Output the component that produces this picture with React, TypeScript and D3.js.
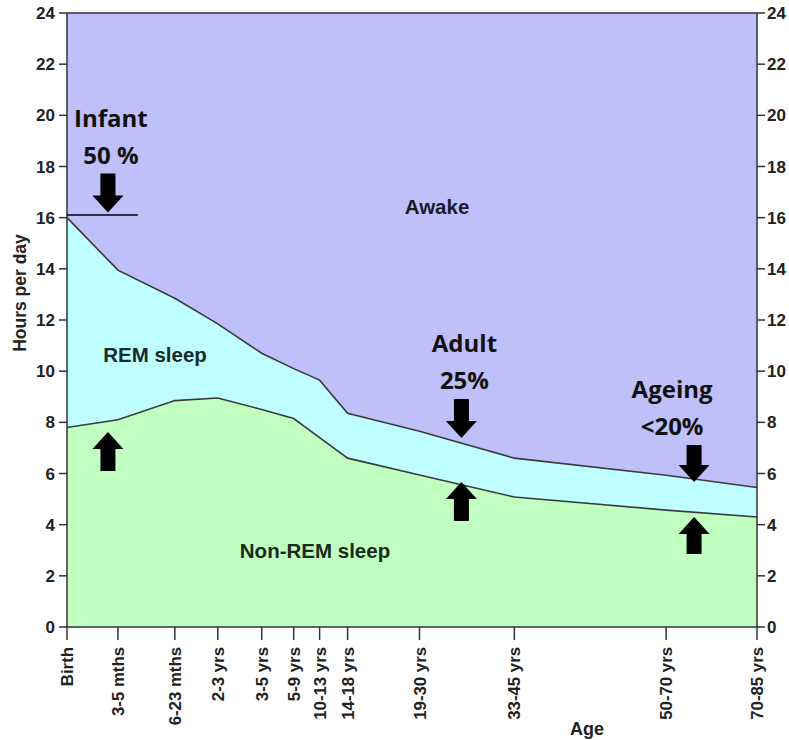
import React from "react";
import * as d3 from "d3";

const categories = ["Birth", "3-5 mths", "6-23 mths", "2-3 yrs", "3-5 yrs", "5-9 yrs", "10-13 yrs", "14-18 yrs", "19-30 yrs", "33-45 yrs", "50-70 yrs", "70-85 yrs"];
// position of each age group along the (non-uniform) age axis
const agePos = [0, 51, 108, 151, 195, 227, 253, 281, 353, 448, 600, 691];
const totalSleep = [16, 13.95, 12.85, 11.85, 10.7, 10.1, 9.65, 8.35, 7.65, 6.6, 5.93, 5.45];
const nremSleep = [7.8, 8.1, 8.85, 8.95, 8.5, 8.15, 7.4, 6.6, 5.94, 5.08, 4.57, 4.3];
const yTicks = [0, 2, 4, 6, 8, 10, 12, 14, 16, 18, 20, 22, 24];

const annoLabels = [["Infant", "50 %"], ["Adult", "25%"], ["Ageing", "<20%"]];
const annoPos = [41, 395, 628];
const annoDownTip = [16.2, 7.39, 5.67];
const annoUpTip = [7.62, 5.67, 4.3];

const W = 789, H = 740;
const M = { left: 67, right: 32, top: 13, bottom: 113 };
const axisFont = "'Liberation Sans', Arial, sans-serif";
const annoFont = "'Open Sans', Lato, sans-serif";

function arrowPath(x: number, tipY: number, dir: number, total: number) {
  // dir = 1 pointing down, -1 pointing up
  const hw = 15.5, sw = 7.5, hh = 17;
  const base = tipY - dir * total;
  const neck = tipY - dir * hh;
  return `M${x - sw},${base} L${x + sw},${base} L${x + sw},${neck} L${x + hw},${neck} L${x},${tipY} L${x - hw},${neck} L${x - sw},${neck} Z`;
}

export default function App() {
  const x = d3.scaleLinear().domain([0, 691]).range([M.left, W - M.right]);
  const y = d3.scaleLinear().domain([0, 24]).range([H - M.bottom, M.top]);
  const data = categories.map((c, i) => ({ c, p: agePos[i], t: totalSleep[i], n: nremSleep[i] }));

  const awake = d3.area<any>().x(d => x(d.p)).y0(d => y(d.t)).y1(() => y(24))(data) || "";
  const rem = d3.area<any>().x(d => x(d.p)).y0(d => y(d.n)).y1(d => y(d.t))(data) || "";
  const nrem = d3.area<any>().x(d => x(d.p)).y0(() => y(0)).y1(d => y(d.n))(data) || "";
  const topLine = d3.line<any>().x(d => x(d.p)).y(d => y(d.t))(data) || "";
  const midLine = d3.line<any>().x(d => x(d.p)).y(d => y(d.n))(data) || "";

  const x0 = x(0), x1 = x(691), yb = y(0), yt = y(24);
  const arrowLen = [39, 39, 37];

  return (
    <svg width={W} height={H} style={{ position: "absolute", left: 0, top: 0, background: "#fff" }}>
      <path d={awake} fill="#bfbffa" />
      <path d={rem} fill="#bfffff" />
      <path d={nrem} fill="#c0ffc0" />
      <path d={topLine} fill="none" stroke="#3a3a3a" strokeWidth={1.6} />
      <path d={midLine} fill="none" stroke="#3a3a3a" strokeWidth={1.6} />

      {/* frame */}
      <line x1={x0} x2={x1} y1={yt} y2={yt} stroke="#333" strokeWidth={1.5} />
      <line x1={x0} x2={x0} y1={yt} y2={yb} stroke="#333" strokeWidth={1.5} />
      <line x1={x1} x2={x1} y1={yt} y2={yb} stroke="#333" strokeWidth={1.5} />
      <line x1={x0} x2={x1} y1={yb} y2={yb} stroke="#333" strokeWidth={1.5} />

      {/* y ticks */}
      {yTicks.map(v => (
        <g key={v}>
          <line x1={x0 - 8} x2={x0} y1={y(v)} y2={y(v)} stroke="#333" strokeWidth={1.5} />
          <text x={x0 - 12} y={y(v)} dy="0.36em" textAnchor="end" fontFamily={axisFont} fontWeight="bold" fontSize={17} fill="#222">{v}</text>
          <line x1={x1} x2={x1 + 8} y1={y(v)} y2={y(v)} stroke="#333" strokeWidth={1.5} />
          <text x={x1 + 10} y={y(v)} dy="0.36em" textAnchor="start" fontFamily={axisFont} fontWeight="bold" fontSize={17} fill="#222">{v}</text>
        </g>
      ))}

      {/* x ticks */}
      {data.map(d => (
        <g key={d.c}>
          <line x1={x(d.p)} x2={x(d.p)} y1={yb} y2={yb + 13} stroke="#333" strokeWidth={1.5} />
          <text transform={`translate(${x(d.p)},${yb + 20}) rotate(-90)`} dy="0.36em" textAnchor="end" fontFamily={axisFont} fontWeight="bold" fontSize={16.8} fill="#222">{d.c}</text>
        </g>
      ))}

      <text x={587} y={735} textAnchor="middle" fontFamily={axisFont} fontWeight="bold" fontSize={18} fill="#222">Age</text>
      <text transform={`translate(26,293) rotate(-90)`} textAnchor="middle" fontFamily={axisFont} fontWeight="bold" fontSize={17.5} fill="#222">Hours per day</text>

      <text x={437} y={214} textAnchor="middle" fontFamily={axisFont} fontWeight="bold" fontSize={20.5} fill="#1a1a2a">Awake</text>
      <text x={155} y={362} textAnchor="middle" fontFamily={axisFont} fontWeight="bold" fontSize={20.5} fill="#1a2a2a">REM sleep</text>
      <text x={315} y={558} textAnchor="middle" fontFamily={axisFont} fontWeight="bold" fontSize={20.5} fill="#1a2a1a">Non-REM sleep</text>

      {/* infant baseline marker */}
      <line x1={x0} x2={x(71)} y1={y(16.1)} y2={y(16.1)} stroke="#000" strokeWidth={1.5} />

      {annoLabels.map((lab, i) => {
        const ax = x(annoPos[i]);
        const dTip = y(annoDownTip[i]);
        const uTip = y(annoUpTip[i]);
        const topY = dTip - arrowLen[i];
        return (
          <g key={lab[0]}>
            <path d={arrowPath(ax, dTip, 1, arrowLen[i])} fill="#000" />
            <path d={arrowPath(ax, uTip, -1, arrowLen[i])} fill="#000" />
            <text x={ax + (i === 2 ? -22 : 3)} y={topY - 47} textAnchor="middle" fontFamily={annoFont} fontWeight="bold" fontSize={24} fill="#111">{lab[0]}</text>
            <text x={ax + (i === 2 ? -22 : 3)} y={topY - 10} textAnchor="middle" fontFamily={annoFont} fontWeight="bold" fontSize={24} fill="#111">{lab[1]}</text>
          </g>
        );
      })}
    </svg>
  );
}
